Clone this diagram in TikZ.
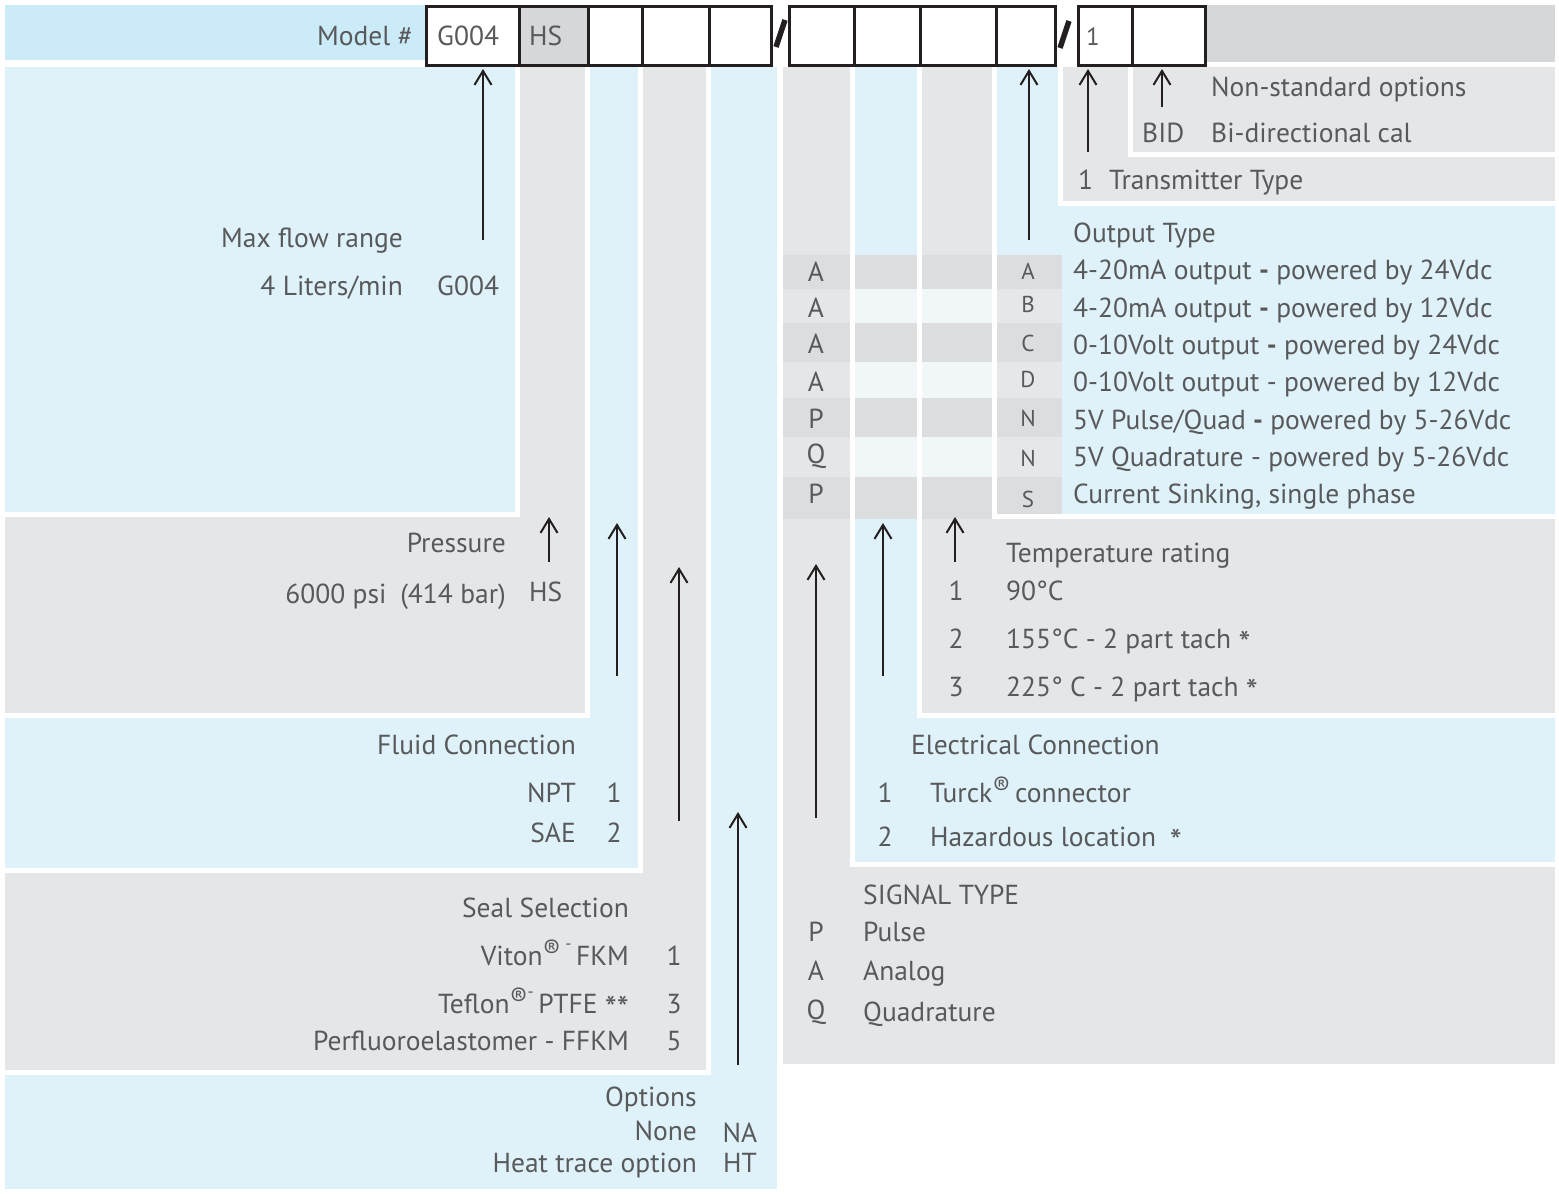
\documentclass[tikz,border=0pt]{standalone}
\usepackage{fontspec}
\setmainfont{PT Sans}
\usetikzlibrary{arrows.meta}
\definecolor{topblue}{RGB}{204,235,249}
\definecolor{lblue}{RGB}{223,242,250}
\definecolor{lgray}{RGB}{229,230,232}
\definecolor{dgray}{RGB}{214,215,217}
\definecolor{rowdark}{RGB}{220,221,223}
\definecolor{rowmid}{RGB}{230,231,233}
\definecolor{rowlight}{RGB}{241,246,249}
\definecolor{txtgray}{RGB}{88,89,91}
\definecolor{ink}{RGB}{35,31,32}
\newcommand\astk{\raisebox{-0.28em}{\fontsize{34}{34}\selectfont *}}
\newcommand\regm{\raisebox{0.22em}{\fontsize{26}{26}\selectfont ®}}
\newcommand\supdash{\raisebox{0.55em}{\fontsize{17}{17}\selectfont -}}
\begin{document}
\begin{tikzpicture}[x=1pt,y=-1pt,
  font=\fontsize{27.5}{32}\selectfont,
  panel/.style={line width=5pt, draw=white},
  txt/.style={text=txtgray, inner sep=0pt, yshift=-6.5pt},
  lbl/.style={txt, anchor=mid west},
  rlbl/.style={txt, anchor=mid east},
  clbl/.style={txt, anchor=mid},
  arr/.style={line width=2pt, draw=ink, -{Straight Barb[length=14pt,width=17pt,line width=2pt]}},
  cellbox/.style={draw=ink, line width=3pt, fill=white, anchor=north west, minimum height=59pt, inner sep=0pt},
  slashmark/.style={line width=5.5pt, draw=ink}]
\useasboundingbox (0,0) rectangle (1559,1194);
% ---------- top bars
\fill[topblue] (5,5) rectangle (425,60);
\fill[dgray] (1203,5) rectangle (1555,62);
% ---------- left panels (outermost first)
\filldraw[panel,fill=lblue] (2.5,64.5) rectangle (779.5,1191.5);
\filldraw[panel,fill=lgray] (2.5,64.5) rectangle (708.5,1072.5);
\filldraw[panel,fill=lblue] (2.5,64.5) rectangle (640.5,870.5);
\filldraw[panel,fill=lgray] (2.5,64.5) rectangle (587.5,715.5);
\filldraw[panel,fill=lblue] (2.5,64.5) rectangle (517.5,514.5);
% ---------- right panels (outermost first)
\filldraw[panel,fill=lgray] (780.5,64.5) rectangle (1557.5,1066.5);
\filldraw[panel,fill=lblue] (852.5,64.5) rectangle (1557.5,864.5);
\filldraw[panel,fill=lgray] (919.5,64.5) rectangle (1557.5,715.5);
\filldraw[panel,fill=lblue] (994.5,64.5) rectangle (1557.5,516.5);
\filldraw[panel,fill=lgray] (1060.5,64.5) rectangle (1557.5,203.5);
\filldraw[panel,fill=lgray] (1130.5,64.5) rectangle (1557.5,154.5);
% ---------- table stripes
\foreach \ya/\yb/\yc in {255/289/289, 323/362/362, 398/437/437, 477/519/514}{
  \fill[rowdark] (783,\ya) rectangle (850,\yb);
  \fill[rowdark] (855,\ya) rectangle (917,\yb);
  \fill[rowdark] (922,\ya) rectangle (992,\yb);
  \fill[rowdark] (997,\ya) rectangle (1062,\yc);
}
\foreach \ya/\yb in {289/323, 362/398, 437/477}{
  \fill[rowlight] (855,\ya) rectangle (917,\yb);
  \fill[rowlight] (922,\ya) rectangle (992,\yb);
  \fill[rowmid] (997,\ya) rectangle (1062,\yb);
}
% ---------- model code boxes
\node[cellbox, minimum width=93pt] (c1) at (425,5) {};
\node[cellbox, minimum width=69pt, fill=dgray] (c2) at (518,5) {};
\node[cellbox, minimum width=54pt] (c3) at (587,5) {};
\node[cellbox, minimum width=67pt] (c4) at (641,5) {};
\node[cellbox, minimum width=62pt] (c5) at (708,5) {};
\node[cellbox, minimum width=65pt] (c6) at (788,5) {};
\node[cellbox, minimum width=66pt] (c7) at (853,5) {};
\node[cellbox, minimum width=76pt] (c8) at (919,5) {};
\node[cellbox, minimum width=59pt] (c9) at (995,5) {};
\node[cellbox, minimum width=54pt] (c10) at (1077,5) {};
\node[cellbox, minimum width=73pt] (c11) at (1131,5) {};
\draw[slashmark] (776,47) -- (785,20);
\draw[slashmark] (1060,48) -- (1069,21);
% ---------- top texts
\node[rlbl] (tmodel) at (413,36) {Model \#};
\node[lbl] (tg004) at (437,36) {G004};
\node[lbl] (ths) at (529,36) {HS};
\node[lbl, font=\fontsize{25}{29}\selectfont] (tone) at (1086,36) {1};
% ---------- left texts
\node[rlbl] (tmax) at (403,238) {Max flow range};
\node[rlbl] (tlit) at (403,286) {4 Liters/min};
\node[lbl] (tg4) at (437,286) {G004};
\node[rlbl] (tpres) at (506,543) {Pressure};
\node[rlbl] (tpsi) at (506,594) {6000 psi\enspace(414 bar)};
\node[lbl] (ths2) at (529,592) {HS};
\node[rlbl] (tfluid) at (576,745) {Fluid Connection};
\node[rlbl] (tnpt) at (576,793) {NPT};
\node[clbl] (tnpt1) at (614,793) {1};
\node[rlbl] (tsae) at (576,833) {SAE};
\node[clbl] (tsae2) at (614,833) {2};
\node[rlbl] (tseal) at (629,908) {Seal Selection};
\node[rlbl] (tviton) at (629,956) {Viton\regm\,\supdash\,FKM};
\node[clbl] (tviton1) at (674,956) {1};
\node[rlbl] (tteflon) at (629,1004) {Teflon\regm\supdash\,PTFE \astk\astk};
\node[clbl] (tteflon3) at (674,1004) {3};
\node[rlbl] (tperf) at (629,1041) {Perfluoroelastomer - FFKM};
\node[clbl] (tperf5) at (674,1041) {5};
\node[rlbl] (topt) at (697,1097) {Options};
\node[rlbl] (tnone) at (697,1131) {None};
\node[clbl] (tna) at (740,1133) {NA};
\node[rlbl] (theat) at (697,1163) {Heat trace option};
\node[clbl] (tht) at (740,1163) {HT};
% ---------- right texts
\node[lbl] (tnon) at (1211,87) {Non-standard options};
\node[lbl] (tbid) at (1142,133) {BID};
\node[lbl] (tbidd) at (1211,133) {Bi-directional cal};
\node[lbl] (ttr1) at (1078,180) {1};
\node[lbl] (ttr) at (1109,180) {Transmitter Type};
\node[lbl] (tout) at (1073,233) {Output Type};
\foreach \y/\s [count=\i] in {272/A,308/A,344/A,382/A,419/P,454/Q,494/P}
  \node[clbl] (sig\i) at (816,\y) {\s};
\foreach \y/\s [count=\i] in {270/A,303/B,342/C,378/D,417/N,457/N,498/S}
  \node[clbl, font=\fontsize{23}{27}\selectfont] (otl\i) at (1028,\y) {\s};
\node[lbl] (od1) at (1073,270) {4-20mA output {\bfseries -} powered by 24Vdc};
\node[lbl] (od2) at (1073,308) {4-20mA output {\bfseries -} powered by 12Vdc};
\node[lbl] (od3) at (1073,345) {0-10Volt output {\bfseries -} powered by 24Vdc};
\node[lbl] (od4) at (1073,382) {0-10Volt output - powered by 12Vdc};
\node[lbl] (od5) at (1073,420) {5V Pulse/Quad {\bfseries -} powered by 5-26Vdc};
\node[lbl] (od6) at (1073,457) {5V Quadrature - powered by 5-26Vdc};
\node[lbl] (od7) at (1073,494) {Current Sinking, single phase};
\node[lbl] (ttemp) at (1006,553) {Temperature rating};
\node[clbl] (tt1) at (956,591) {1};
\node[lbl] (tt1d) at (1006,591) {90°C};
\node[clbl] (tt2) at (956,639) {2};
\node[lbl] (tt2d) at (1006,639) {155°C - 2 part tach \astk};
\node[clbl] (tt3) at (956,687) {3};
\node[lbl] (tt3d) at (1006,687) {225° C - 2 part tach \astk};
\node[lbl] (telec) at (911,745) {Electrical Connection};
\node[clbl] (te1) at (885,793) {1};
\node[lbl] (te1d) at (930,793) {Turck\regm\,connector};
\node[clbl] (te2) at (885,837) {2};
\node[lbl] (te2d) at (930,837) {Hazardous location\enspace \astk};
\node[lbl] (tsig) at (863,895) {SIGNAL TYPE};
\node[clbl] (ts1) at (816,932) {P};
\node[lbl] (ts1d) at (863,932) {Pulse};
\node[clbl] (ts2) at (816,971) {A};
\node[lbl] (ts2d) at (863,971) {Analog};
\node[clbl] (ts3) at (816,1010) {Q};
\node[lbl] (ts3d) at (863,1012) {Quadrature};
% ---------- arrows
\coordinate (a1) at (483,240);
\coordinate (a2s) at (549,562); \coordinate (a2e) at (549,517);
\coordinate (a3s) at (617,676); \coordinate (a3e) at (617,523);
\coordinate (a4s) at (679,821); \coordinate (a4e) at (679,567);
\coordinate (a5s) at (738,1065); \coordinate (a5e) at (738,812);
\coordinate (a6s) at (816,818); \coordinate (a6e) at (816,564);
\coordinate (a7s) at (883,676); \coordinate (a7e) at (883,523);
\coordinate (a8s) at (955,562); \coordinate (a8e) at (955,517);
\coordinate (a9) at (1029,240);
\coordinate (a10) at (1088,152);
\coordinate (a11) at (1162,107);
\draw[arr, shorten >=2pt] (a1) -- (a1 |- c1.south);
\draw[arr] (a2s) -- (a2e);
\draw[arr] (a3s) -- (a3e);
\draw[arr] (a4s) -- (a4e);
\draw[arr] (a5s) -- (a5e);
\draw[arr] (a6s) -- (a6e);
\draw[arr] (a7s) -- (a7e);
\draw[arr] (a8s) -- (a8e);
\draw[arr, shorten >=2pt] (a9) -- (a9 |- c9.south);
\draw[arr, shorten >=2pt] (a10) -- (a10 |- c10.south);
\draw[arr, shorten >=2pt] (a11) -- (a11 |- c11.south);
\end{tikzpicture}
\end{document}
